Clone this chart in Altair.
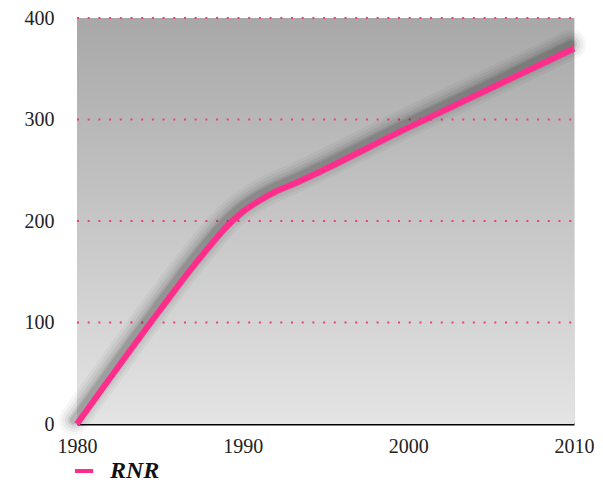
import altair as alt
import pandas as pd

years = [1980, 1985, 1987, 1988, 1989, 1990, 1991, 1992, 1993, 2000, 2005, 2010]
values = [0, 112, 155, 175, 194, 209, 220, 229, 236, 292, 331, 370]
series = ["RNR"] * len(years)
grid_values = [100, 200, 300, 400]

df = pd.DataFrame({"year": years, "value": values, "series": series})
grid_df = pd.DataFrame({"value": grid_values})

W, H = 497, 406
FONT = "'Times New Roman', 'Liberation Serif', Times, serif"
xs = alt.Scale(domain=[1980, 2010], nice=False, zero=False)
ys = alt.Scale(domain=[0, 400], nice=False)

bg = alt.Chart(df).mark_rect(
    color=alt.Gradient(
        gradient="linear", x1=0, y1=0, x2=0, y2=1,
        stops=[alt.GradientStop(color="#a8a8a8", offset=0),
               alt.GradientStop(color="#e4e4e4", offset=1)]
    )
).encode(x=alt.value(0), x2=alt.value(W), y=alt.value(0), y2=alt.value(H))

grid = alt.Chart(grid_df).mark_rule(
    color="#f03c85", strokeWidth=2, strokeDash=[2, 8.7]
).encode(y=alt.Y("value:Q", scale=ys), x=alt.value(0), x2=alt.value(W))

base = alt.Chart(df).encode(
    x=alt.X("year:Q", scale=xs, axis=alt.Axis(
        values=[1980, 1990, 2000, 2010], format="d", title=None, grid=False,
        ticks=False, domain=True, domainColor="#000000", domainWidth=2,
        labelFont=FONT, labelFontSize=20, labelColor="#222222",
        labelPadding=12, labelFlush=False)),
    y=alt.Y("value:Q", scale=ys, axis=alt.Axis(
        values=[0, 100, 200, 300, 400], title=None, grid=False,
        ticks=False, domain=False,
        labelFont=FONT, labelFontSize=20, labelColor="#222222",
        labelPadding=23)),
)

shadows = [
    base.mark_line(interpolate="monotone", color="#000000", strokeWidth=w,
                   opacity=o, xOffset=-3, yOffset=-4, strokeCap="round")
    for w, o in [(30, 0.035), (24, 0.045), (18, 0.06), (12, 0.08), (8, 0.1)]
]

line = base.mark_line(interpolate="monotone", strokeWidth=6, strokeCap="butt").encode(
    color=alt.Color("series:N", scale=alt.Scale(range=["#ff2d8c"]), legend=alt.Legend(
        title=None, orient="none", legendX=-5, legendY=441,
        symbolType="stroke", symbolStrokeWidth=4, symbolSize=330,
        labelFont=FONT, labelFontSize=24, labelFontWeight="bold",
        labelFontStyle="italic", labelColor="#111111", labelOffset=14))
)

chart = alt.layer(bg, grid, *shadows, line).properties(
    width=W, height=H,
    autosize=alt.AutoSizeParams(type="none"),
    padding={"left": 69, "top": 10, "right": 21, "bottom": 58},
).configure_view(stroke=None).configure(background="#ffffff")

chart.save("out.html", embed_options={"renderer": "svg", "actions": False})
